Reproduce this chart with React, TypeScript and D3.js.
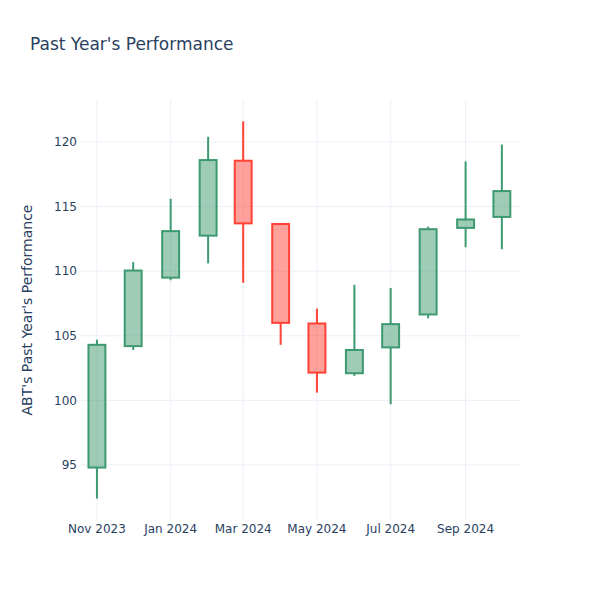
import React from "react";
import * as d3 from "d3";

const dates = [
  "2023-11-01", "2023-12-01", "2024-01-01", "2024-02-01", "2024-03-01", "2024-04-01",
  "2024-05-01", "2024-06-01", "2024-07-01", "2024-08-01", "2024-09-01", "2024-10-01",
];
const opens = [94.8, 104.2, 109.5, 112.75, 118.55, 113.65, 105.95, 102.1, 104.1, 106.65, 113.35, 114.2];
const highs = [104.7, 110.7, 115.6, 120.4, 121.6, 113.7, 107.1, 108.95, 108.7, 113.45, 118.5, 119.8];
const lows = [92.4, 103.9, 109.3, 110.6, 109.1, 104.3, 100.6, 101.9, 99.7, 106.35, 111.85, 111.7];
const closes = [104.3, 110.05, 113.1, 118.6, 113.7, 106.0, 102.15, 103.9, 105.9, 113.25, 114.0, 116.2];

const xTickDates = ["2023-11-01", "2024-01-01", "2024-03-01", "2024-05-01", "2024-07-01", "2024-09-01"];
const yTicks = [95, 100, 105, 110, 115, 120];

const W = 600, H = 600;
const M = { l: 80, r: 80, t: 100, b: 80 };
const FONT = "'DejaVu Sans', Verdana, sans-serif";
const TEXT = "#2a3f5f";
const GRID = "#ebf0f8";
const UP = "#3D9970";
const DOWN = "#FF4136";

export default function App() {
  const parse = d3.utcParse("%Y-%m-%d");
  const data = dates.map((d, i) => ({
    date: parse(d) as Date,
    o: opens[i], h: highs[i], l: lows[i], c: closes[i],
  }));
  const x = d3.scaleUtc()
    .domain([d3.utcDay.offset(data[0].date, -14), d3.utcDay.offset(data[data.length - 1].date, 15)])
    .range([M.l, W - M.r]);
  const y = d3.scaleLinear().domain([90.74, 123.25]).range([H - M.b, M.t]);
  const fmt = d3.utcFormat("%b %Y");
  const halfW = (x(d3.utcDay.offset(data[0].date, 14.5)) - x(data[0].date)) / 2;

  return (
    <svg width={W} height={H} style={{ display: "block", position: "absolute", left: 0, top: 0, background: "#fff" }}>
      <rect x={0} y={0} width={W} height={H} fill="#fff" />
      {yTicks.map((t) => (
        <line key={"gy" + t} x1={M.l} x2={W - M.r} y1={y(t)} y2={y(t)} stroke={GRID} strokeWidth={1} />
      ))}
      {xTickDates.map((t) => {
        const xx = x(parse(t) as Date);
        return <line key={"gx" + t} x1={xx} x2={xx} y1={M.t} y2={H - M.b} stroke={GRID} strokeWidth={1} />;
      })}
      {data.map((d, i) => {
        const up = d.c >= d.o;
        const col = up ? UP : DOWN;
        const fill = up ? "rgba(61,153,112,0.5)" : "rgba(255,65,54,0.5)";
        const cx = x(d.date);
        const top = y(Math.max(d.o, d.c));
        const bot = y(Math.min(d.o, d.c));
        return (
          <g key={i}>
            <line x1={cx} x2={cx} y1={y(d.h)} y2={top} stroke={col} strokeWidth={2} />
            <line x1={cx} x2={cx} y1={bot} y2={y(d.l)} stroke={col} strokeWidth={2} />
            <rect x={cx - halfW} y={top} width={halfW * 2} height={Math.max(bot - top, 0.5)} fill={fill} stroke={col} strokeWidth={2} />
          </g>
        );
      })}
      {yTicks.map((t) => (
        <text key={"ty" + t} x={M.l - 3} y={y(t)} dy="0.35em" textAnchor="end" fontFamily={FONT} fontSize={12} fill={TEXT}>
          {t}
        </text>
      ))}
      {xTickDates.map((t) => (
        <text key={"tx" + t} x={x(parse(t) as Date)} y={H - M.b + 13} textAnchor="middle" fontFamily={FONT} fontSize={12} fill={TEXT}>
          {fmt(parse(t) as Date)}
        </text>
      ))}
      <text x={30} y={50} fontFamily={FONT} fontSize={17} fill={TEXT}>Past Year's Performance</text>
      <text transform={`translate(32,${(M.t + H - M.b) / 2}) rotate(-90)`} textAnchor="middle" fontFamily={FONT} fontSize={14} fill={TEXT}>
        ABT's Past Year's Performance
      </text>
    </svg>
  );
}
